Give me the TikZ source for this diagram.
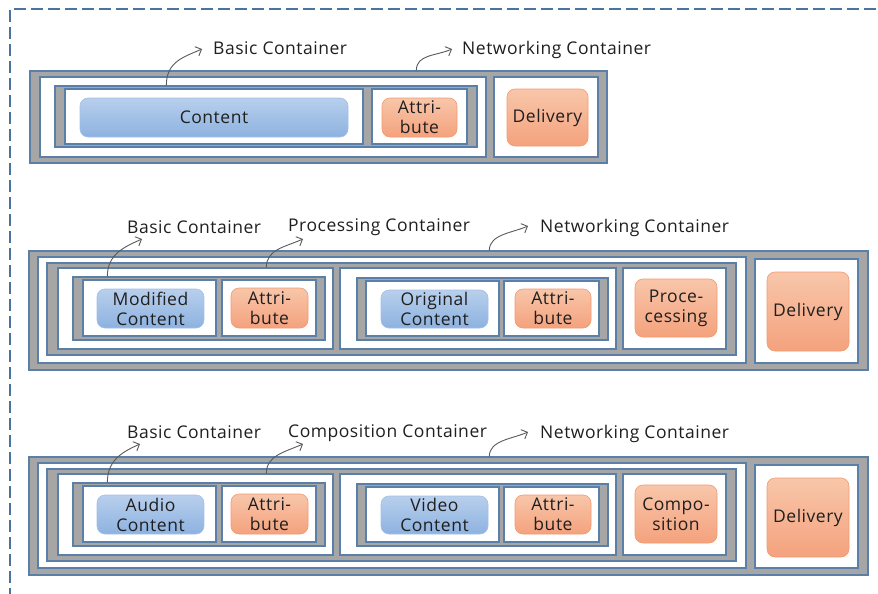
\documentclass[tikz,border=0pt]{standalone}
\usepackage{fontspec}
\setmainfont{Open Sans}[LetterSpace=3]
\usetikzlibrary{fit, arrows.meta}

\definecolor{boxgray}{HTML}{A6A6A6}
\definecolor{boxblue}{HTML}{5A7FA8}
\definecolor{cnttop}{HTML}{B8CFEC}
\definecolor{cntbot}{HTML}{8DB2E0}
\definecolor{cntline}{HTML}{A3C0E6}
\definecolor{atttop}{HTML}{F8C6AA}
\definecolor{attbot}{HTML}{F4A27D}
\definecolor{attline}{HTML}{F29B70}
\definecolor{txt}{HTML}{1F1F1F}
\definecolor{arrgray}{HTML}{5A5A5A}
\definecolor{frameblue}{HTML}{4A73A0}

\tikzset{
    gbox/.style={draw=boxblue, fill=boxgray, line width=1.3pt, inner sep=0pt},
    wbox/.style={draw=boxblue, fill=white, line width=1.3pt, inner sep=0pt},
    cnt/.style={rounded corners=8pt, top color=cnttop, bottom color=cntbot, draw=cntline,
        line width=0.6pt, inner sep=0pt, align=center, text=txt, font=\fontsize{17.5}{20}\selectfont},
    att/.style={cnt, top color=atttop, bottom color=attbot, draw=attline},
    lbl/.style={anchor=base west, inner sep=0pt, text=txt, font=\fontsize{17.5}{20}\selectfont},
    arr/.style={->, draw=arrgray, line width=0.9pt},
    frame/.style={draw=frameblue, line width=1.8pt, dash pattern=on 12pt off 5pt},
    >={Straight Barb[length=5pt, width=10pt]}
}

\begin{document}
\begin{tikzpicture}[x=1pt, y=-1pt]
    \useasboundingbox (0,0) rectangle (878,594);
    \draw[frame] (10,600) -- (10,9) -- (880,9);

    % first row
    \node[gbox, fit={(30,71) (607,163)}] (net1) {};
    \node[wbox, fit={(40,77) (486,157)}] (net1a) {};
    \node[wbox, fit={(494,77) (598,157)}] (net1d) {};
    \node[gbox, fit={(55,86) (477,147)}] (bas1) {};
    \node[wbox, fit={(65,89) (363,144)}] (bas1c) {};
    \node[wbox, fit={(372,89) (467,144)}] (bas1a) {};
    \node[cnt, minimum width=268pt, minimum height=39pt] at (214,117.5) (content1) {Content};
    \node[att, minimum width=75pt, minimum height=39pt] at (419.5,117.5) (attr1) {Attri-\\bute};
    \node[att, minimum width=81pt, minimum height=57pt] at (547.5,117.5) (deliv1) {Delivery};
    \node[lbl] at (213,55) (lblbas1) {Basic Container};
    \node[lbl] at (462,55) (lblnet1) {Networking Container};
    \draw[arr] ([xshift=112pt]bas1.north west) .. controls +(0,-24) and +(-18,8) .. ([xshift=-11pt,yshift=6pt]lblbas1.base west);
    \draw[arr] ([xshift=387pt]net1.north west) .. controls +(0,-16) and +(-16,7) .. ([xshift=-10pt,yshift=6pt]lblnet1.base west);

    % second row
    \node[gbox, fit={(29,251) (868,370)}] (net2) {};
    \node[wbox, fit={(38,257) (746,363)}] (net2a) {};
    \node[wbox, fit={(755,259) (858,363)}] (net2d) {};
    \node[gbox, fit={(47,263) (736,355)}] (proc2) {};
    \node[wbox, fit={(58,268) (333,349)}] (proc2a) {};
    \node[wbox, fit={(340,268) (616,349)}] (proc2b) {};
    \node[wbox, fit={(623,268) (726,349)}] (proc2c) {};
    \node[gbox, fit={(73,277) (325,340)}] (bas2) {};
    \node[wbox, fit={(83,280) (216,336)}] (bas2c) {};
    \node[wbox, fit={(222,280) (316,336)}] (bas2a) {};
    \node[gbox, fit={(357,278) (608,340)}] (org2) {};
    \node[wbox, fit={(366,281) (499,336)}] (org2c) {};
    \node[wbox, fit={(504,281) (599,336)}] (org2a) {};
    \node[cnt, minimum width=107pt, minimum height=39pt] at (150.5,308.5) (modcnt) {Modified\\Content};
    \node[att, minimum width=77pt, minimum height=40pt] at (269.5,308) (modattr) {Attri-\\bute};
    \node[cnt, minimum width=107pt, minimum height=38pt] at (434.5,309) (orgcnt) {Original\\Content};
    \node[att, minimum width=76pt, minimum height=39pt] at (553,308.5) (orgattr) {Attri-\\bute};
    \node[att, minimum width=82pt, minimum height=58pt] at (676,308) (procnode) {Proce-\\cessing};
    \node[att, minimum width=82pt, minimum height=79pt] at (808,311.5) (deliv2) {Delivery};
    \node[lbl] at (127,233) (lblbas2) {Basic Container};
    \node[lbl] at (288,231) (lblproc2) {Processing Container};
    \node[lbl] at (540,232) (lblnet2) {Networking Container};
    \draw[arr] ([xshift=35pt]bas2.north west) .. controls +(0,-22) and +(-18,8) .. ([xshift=15pt,yshift=-6pt]lblbas2.base west);
    \draw[arr] ([xshift=209pt]proc2a.north west) .. controls +(0,-18) and +(-18,8) .. ([xshift=15pt,yshift=-8pt]lblproc2.base west);
    \draw[arr] ([xshift=461pt]net2.north west) .. controls +(0,-16) and +(-16,7) .. ([xshift=-12pt,yshift=6pt]lblnet2.base west);

    % third row
    \begin{scope}[yshift=-206pt]
    \node[gbox, fit={(29,251) (868,369)}] (net3) {};
    \node[wbox, fit={(38,257) (746,362)}] (net3a) {};
    \node[wbox, fit={(755,259) (858,362)}] (net3d) {};
    \node[gbox, fit={(47,263) (736,355)}] (comp3) {};
    \node[wbox, fit={(58,268) (333,349)}] (comp3a) {};
    \node[wbox, fit={(340,268) (616,349)}] (comp3b) {};
    \node[wbox, fit={(623,268) (726,349)}] (comp3c) {};
    \node[gbox, fit={(73,277) (325,340)}] (bas3) {};
    \node[wbox, fit={(83,280) (216,336)}] (bas3c) {};
    \node[wbox, fit={(222,280) (316,336)}] (bas3a) {};
    \node[gbox, fit={(357,278) (608,340)}] (vid3) {};
    \node[wbox, fit={(366,281) (499,336)}] (vid3c) {};
    \node[wbox, fit={(504,281) (599,336)}] (vid3a) {};
    \node[cnt, minimum width=107pt, minimum height=39pt] at (150.5,308.5) (audcnt) {Audio\\Content};
    \node[att, minimum width=77pt, minimum height=40pt] at (269.5,308) (audattr) {Attri-\\bute};
    \node[cnt, minimum width=107pt, minimum height=38pt] at (434.5,309) (vidcnt) {Video\\Content};
    \node[att, minimum width=76pt, minimum height=39pt] at (553,308.5) (vidattr) {Attri-\\bute};
    \node[att, minimum width=82pt, minimum height=58pt] at (676,308) (compnode) {Compo-\\sition};
    \node[att, minimum width=82pt, minimum height=79pt] at (808,311.5) (deliv3) {Delivery};
    \node[lbl] at (127,232) (lblbas3) {Basic Container};
    \node[lbl] at (288,231) (lblcomp3) {Composition Container};
    \node[lbl] at (540,232) (lblnet3) {Networking Container};
    \draw[arr] ([xshift=35pt]bas3.north west) .. controls +(0,-22) and +(-18,8) .. ([xshift=13pt,yshift=-6pt]lblbas3.base west);
    \draw[arr] ([xshift=209pt]comp3a.north west) .. controls +(0,-18) and +(-18,8) .. ([xshift=15pt,yshift=-7pt]lblcomp3.base west);
    \draw[arr] ([xshift=461pt]net3.north west) .. controls +(0,-16) and +(-16,7) .. ([xshift=-12pt,yshift=6pt]lblnet3.base west);
    \end{scope}
\end{tikzpicture}
\end{document}
